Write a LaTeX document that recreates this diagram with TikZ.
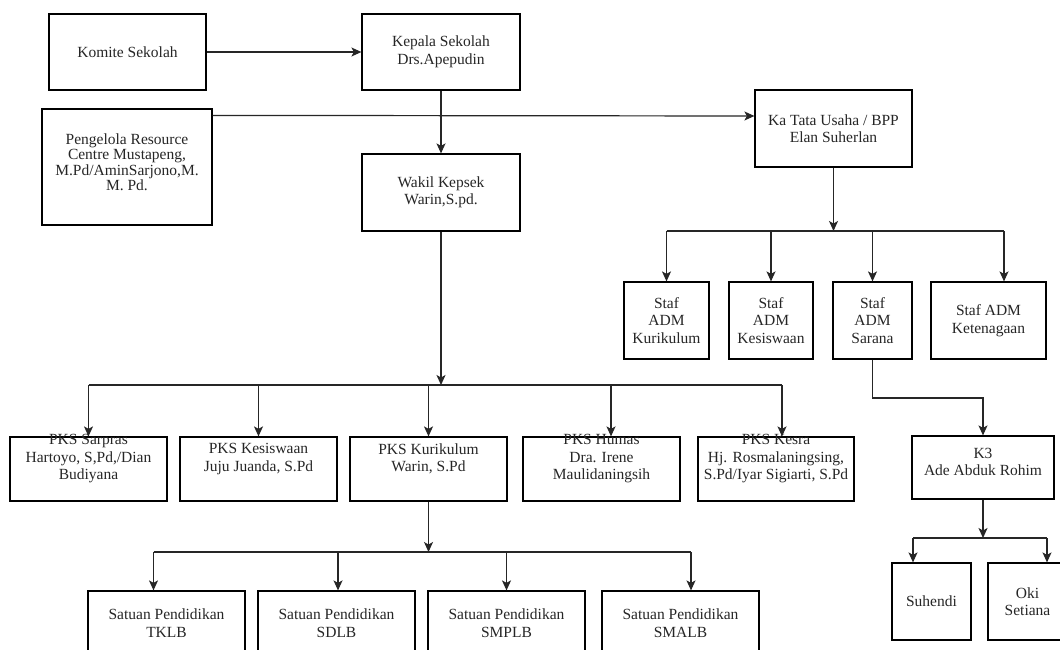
\documentclass[tikz,border=0pt]{standalone}
\usepackage{fontspec}
\setmainfont{Liberation Serif}
\usetikzlibrary{arrows.meta}
\begin{document}
\begin{tikzpicture}[x=1pt,y=-1pt,
  box/.style={draw=black, line width=1.2pt, fill=white, inner sep=0pt,
    align=center, font=\fontsize{15.5}{17.5}\selectfont, text=black!85},
  txt/.style={align=center, font=\fontsize{15.5}{17.5}\selectfont, text=black!85, inner sep=0pt},
  link/.style={line width=1.2pt, draw=black!85},
  arr/.style={link, -{Stealth[length=10pt,width=9pt,inset=2.5pt]}}]

\useasboundingbox (0,0) rectangle (1060,650);
\fill[white] (0,0) rectangle (1060,650);
\clip (0,0) rectangle (1060,650);

% --- top level ---
\node[box, minimum width=157pt, minimum height=76pt] (komite) at (127.5,52) {Komite Sekolah};
\node[box, minimum width=158pt, minimum height=76pt] (kepala) at (441,52) {Kepala Sekolah\\Drs.Apepudin};
\node[box, minimum width=170pt, minimum height=116pt] (pengelola) at (127,167) {};
\node[txt, font=\fontsize{15.5}{15.5}\selectfont] (pengelola-t) at (127,162) {Pengelola Resource\\Centre Mustapeng,\\M.Pd/AminSarjono,M.\\M. Pd.};
\node[box, minimum width=158pt, minimum height=77pt] (wakil) at (441,192.5) {Wakil Kepsek\\Warin,S.pd.};
\node[box, minimum width=157pt, minimum height=77pt] (katu) at (833.5,128.5) {Ka Tata Usaha / BPP\\Elan Suherlan};

\draw[arr] (komite.east) -- (kepala.west);
\draw[arr] (kepala.south) -- (wakil.north);
\draw[arr] ([yshift=-7pt]pengelola.north east) -- ([yshift=12.5pt]katu.west);

% --- administration staff ---
\node[box, minimum width=85pt, minimum height=77pt] (skur) at (666.5,320.5) {Staf\\ADM\\Kurikulum};
\node[box, minimum width=84pt, minimum height=77pt] (skes) at (771,320.5) {Staf\\ADM\\Kesiswaan};
\node[box, minimum width=79pt, minimum height=77pt] (ssar) at (872.5,320.5) {Staf\\ADM\\Sarana};
\node[box, minimum width=115pt, minimum height=77pt] (sket) at (988.5,320.5) {Staf ADM\\Ketenagaan};

\coordinate (tb) at (833.5,231);
\draw[arr] (katu.south) -- (tb);
\draw[link] (skur.north |- tb) -- ([xshift=15.5pt]sket.north |- tb);
\draw[arr] (skur.north |- tb) -- (skur.north);
\draw[arr] (skes.north |- tb) -- (skes.north);
\draw[arr] (ssar.north |- tb) -- (ssar.north);
\draw[arr] ([xshift=15.5pt]sket.north |- tb) -- ([xshift=15.5pt]sket.north);

% --- K3 branch ---
\node[box, minimum width=142pt, minimum height=63pt] (k3) at (983,467.5) {};
\node[txt] (k3-t) at (983,462) {K3\\Ade Abduk Rohim};
\coordinate (sb) at (872.5,398);
\draw[arr] (ssar.south) -- (sb) -| (k3.north);

\node[box, minimum width=79pt, minimum height=77pt] (suhendi) at (931.5,601.5) {Suhendi};
\node[box, minimum width=79pt, minimum height=77pt] (oki) at (1027.5,601.5) {Oki\\Setiana};
\coordinate (kb) at (983,538);
\draw[arr] (k3.south) -- (kb);
\draw[link] ([xshift=-18.5pt]suhendi.north |- kb) -- ([xshift=19.5pt]oki.north |- kb);
\draw[arr] ([xshift=-18.5pt]suhendi.north |- kb) -- ([xshift=-18.5pt]suhendi.north);
\draw[arr] ([xshift=19.5pt]oki.north |- kb) -- ([xshift=19.5pt]oki.north);

% --- vice principals ---
\node[box, minimum width=157pt, minimum height=64pt] (sarpras) at (88.5,469) {};
\node[box, minimum width=157pt, minimum height=64pt] (kesis) at (258.5,469) {};
\node[box, minimum width=157pt, minimum height=64pt] (kurik) at (428.5,469) {};
\node[box, minimum width=157pt, minimum height=64pt] (humas) at (601.5,469) {};
\node[box, minimum width=156pt, minimum height=64pt] (kesra) at (776,469) {};

\coordinate (wb) at (441,385);
\draw[arr] (wakil.south) -- (wb);
\draw[link] (sarpras.north |- wb) -- ([xshift=6pt]kesra.north |- wb);
\draw[arr] (sarpras.north |- wb) -- (sarpras.north);
\draw[arr] (kesis.north |- wb) -- (kesis.north);
\draw[arr] (kurik.north |- wb) -- (kurik.north);
\draw[arr] ([xshift=9.5pt]humas.north |- wb) -- ([xshift=9.5pt]humas.north);
\draw[arr] ([xshift=6pt]kesra.north |- wb) -- ([xshift=6pt]kesra.north);

\node[txt] (sarpras-t) at (88.5,459) {PKS Sarpras\\Hartoyo, S,Pd,/Dian\\Budiyana};
\node[txt] (kesis-t) at (258.5,459) {PKS Kesiswaan\\Juju Juanda, S.Pd};
\node[txt] (kurik-t) at (428.5,459) {PKS Kurikulum\\Warin, S.Pd};
\node[txt] (humas-t) at (601.5,459) {PKS Humas\\Dra. Irene\\Maulidaningsih};
\node[txt] (kesra-t) at (776,459) {PKS Kesra\\Hj. Rosmalaningsing,\\S.Pd/Iyar Sigiarti, S.Pd};

% --- education units ---
\node[box, minimum width=157pt, minimum height=64pt] (tklb) at (166.5,623) {Satuan Pendidikan\\TKLB};
\node[box, minimum width=157pt, minimum height=64pt] (sdlb) at (336.5,623) {Satuan Pendidikan\\SDLB};
\node[box, minimum width=157pt, minimum height=64pt] (smplb) at (506.5,623) {Satuan Pendidikan\\SMPLB};
\node[box, minimum width=157pt, minimum height=64pt] (smalb) at (680.5,623) {Satuan Pendidikan\\SMALB};

\coordinate (ub) at (428.5,552);
\draw[arr] (kurik.south) -- (ub);
\draw[link] ([xshift=-13pt]tklb.north |- ub) -- ([xshift=10.5pt]smalb.north |- ub);
\draw[arr] ([xshift=-13pt]tklb.north |- ub) -- ([xshift=-13pt]tklb.north);
\draw[arr] ([xshift=1.5pt]sdlb.north |- ub) -- ([xshift=1.5pt]sdlb.north);
\draw[arr] (smplb.north |- ub) -- (smplb.north);
\draw[arr] ([xshift=10.5pt]smalb.north |- ub) -- ([xshift=10.5pt]smalb.north);

\end{tikzpicture}
\end{document}
